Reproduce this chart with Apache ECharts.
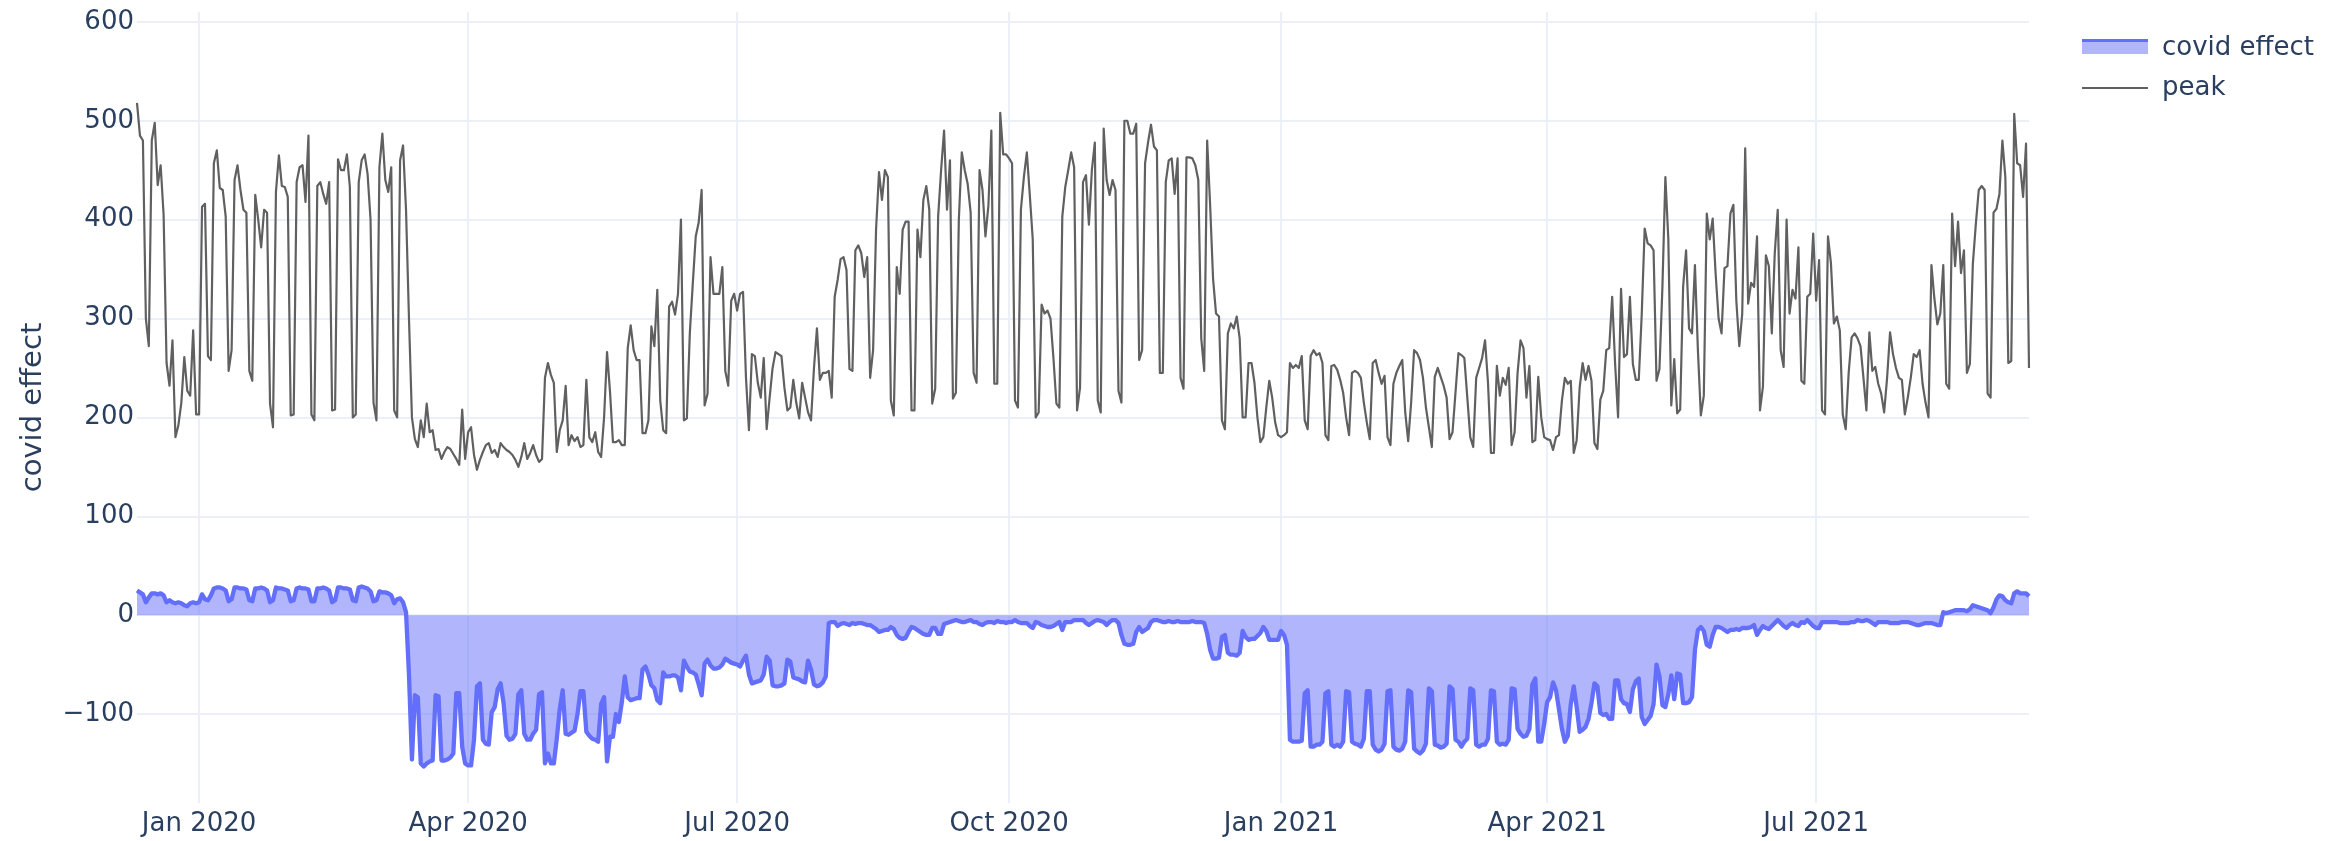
<!DOCTYPE html>
<html>
<head>
<meta charset="utf-8">
<title>covid effect</title>
<script src="https://cdn.jsdelivr.net/npm/echarts@6/dist/echarts.min.js"></script>
<style>
  html, body { margin: 0; padding: 0; background: #ffffff; }
  #chart { width: 2340px; height: 841px; }
</style>
</head>
<body>
<div id="chart"></div>
<script>
// Daily series, one line per week (Mon..Sun); first line starts Wed 2019-12-11.
const firstDay = '2019-12-11';

const peak = [
  518, 485, 480, 300, 272,
  480, 498, 435, 455, 405, 255, 232,
  278, 180, 192, 215, 261, 227, 222,
  288, 203, 203, 413, 416, 262, 258,
  457, 470, 432, 430, 403, 247, 268,
  440, 455, 430, 410, 407, 247, 237,
  425, 400, 372, 410, 407, 214, 190,
  428, 465, 434, 433, 423, 202, 203,
  438, 453, 455, 418, 485, 203, 197,
  434, 438, 426, 416, 438, 207, 208,
  461, 450, 450, 466, 433, 200, 203,
  438, 460, 466, 446, 400, 215, 197,
  453, 487, 440, 428, 453, 207, 200,
  460, 475, 410, 300, 200, 178, 170,
  197, 180, 214, 185, 187, 167, 168,
  158, 165, 170, 168, 163, 158, 152,
  208, 158, 185, 190, 162, 147, 157,
  165, 172, 174, 164, 167, 160, 174,
  170, 167, 165, 162, 157, 150, 160,
  174, 158, 164, 172, 162, 155, 158,
  240, 255, 243, 235, 165, 187, 197,
  232, 172, 182, 176, 180, 170, 172,
  238, 180, 175, 185, 165, 160, 200,
  266, 226, 175, 175, 177, 172, 172,
  270, 293, 268, 258, 258, 184, 184,
  197, 292, 272, 329, 217, 187, 184,
  312, 317, 304, 325, 400, 197, 199,
  285, 335, 383, 397, 430, 212, 224,
  362, 325, 325, 325, 352, 247, 232,
  318, 325, 308, 325, 327, 240, 187,
  264, 262, 235, 220, 260, 188, 220,
  250, 266, 264, 262, 230, 207, 210,
  238, 215, 199, 235, 220, 205, 197,
  250, 290, 238, 245, 245, 247, 220,
  322, 339, 360, 362, 349, 249, 247,
  369, 374, 366, 342, 362, 240, 268,
  390, 448, 420, 450, 443, 217, 202,
  352, 325, 390, 398, 398, 207, 207,
  390, 362, 420, 434, 410, 214, 229,
  403, 450, 490, 410, 460, 219, 225,
  400, 468, 450, 436, 407, 245, 235,
  450, 430, 383, 414, 490, 234, 234,
  508, 466, 466, 462, 457, 217, 210,
  410, 443, 468, 425, 380, 200, 205,
  314, 305, 308, 300, 260, 214, 210,
  403, 433, 450, 468, 453, 207, 230,
  438, 445, 395, 450, 478, 217, 205,
  492, 440, 425, 440, 430, 227, 215,
  500, 500, 487, 487, 497, 258, 268,
  457, 478, 496, 474, 470, 245, 245,
  438, 460, 462, 426, 462, 240, 229,
  463, 463, 462, 455, 440, 280, 247,
  480, 415, 340, 305, 302, 197, 188,
  285, 295, 290, 302, 280, 200, 200,
  255, 255, 235, 200, 175, 180, 210,
  237, 220, 195, 182, 180, 182, 185,
  255, 250, 253, 250, 262, 197, 188,
  262, 268, 263, 265, 255, 182, 177,
  252, 253, 248, 238, 225, 200, 182,
  245, 247, 245, 240, 215, 195, 178,
  255, 258, 245, 234, 242, 180, 172,
  234, 245, 252, 258, 205, 176, 215,
  268, 265, 258, 240, 210, 190, 170,
  241, 250, 241, 232, 220, 178, 185,
  225, 265, 263, 260, 220, 180, 170,
  240, 250, 260, 278, 235, 164, 164,
  252, 222, 240, 233, 250, 172, 185,
  245, 278, 270, 220, 252, 175, 177,
  241, 200, 180, 178, 177, 167, 180,
  182, 217, 240, 234, 237, 164, 177,
  230, 255, 238, 252, 237, 174, 168,
  218, 227, 268, 270, 322, 254, 200,
  330, 261, 264, 322, 254, 238, 238,
  304, 391, 376, 374, 369, 237, 249,
  332, 443, 380, 212, 259, 204, 208,
  332, 369, 290, 285, 354, 268, 202,
  222, 406, 380, 401, 345, 300, 285,
  351, 353, 406, 415, 318, 272, 305,
  472, 315, 336, 332, 383, 207, 231,
  364, 353, 285, 366, 410, 268, 251,
  400, 305, 329, 320, 372, 237, 234,
  322, 325, 386, 318, 359, 207, 203,
  383, 356, 295, 302, 288, 203, 188,
  245, 281, 285, 280, 272, 240, 207,
  286, 247, 251, 234, 224, 205, 240,
  286, 264, 250, 240, 238, 203, 220,
  240, 264, 261, 268, 234, 215, 200,
  354, 320, 294, 305, 354, 234, 229,
  406, 353, 398, 346, 369, 245, 254,
  355, 395, 430, 434, 430, 224, 220,
  407, 411, 426, 480, 443, 255, 257,
  507, 457, 455, 423, 477, 250
];

const covidEffect = [
  25, 23, 21, 13, 18,
  22, 22, 21, 22, 20, 13, 15,
  13, 12, 13, 12, 10, 9, 12,
  13, 12, 13, 21, 16, 15, 20,
  27, 28, 28, 27, 25, 14, 16,
  28, 28, 27, 27, 26, 15, 14,
  27, 27, 28, 27, 25, 13, 15,
  28, 27, 27, 26, 25, 14, 15,
  27, 28, 27, 27, 26, 14, 14,
  27, 27, 28, 27, 25, 13, 15,
  28, 28, 27, 27, 26, 15, 14,
  28, 29, 28, 27, 24, 14, 15,
  24, 23, 23, 22, 20, 12, 16,
  17, 13, 3, -60, -146, -81, -83,
  -150, -153, -150, -148, -147, -81, -82,
  -147, -147, -146, -144, -140, -79, -79,
  -133, -150, -152, -152, -126, -72, -69,
  -126, -130, -131, -98, -93, -75, -69,
  -89, -122, -126, -125, -120, -80, -76,
  -120, -126, -126, -120, -116, -80, -78,
  -150, -140, -150, -150, -125, -95, -76,
  -120, -121, -119, -117, -100, -77, -77,
  -118, -122, -125, -126, -128, -90, -83,
  -148, -123, -123, -100, -108, -88, -62,
  -83, -86, -85, -84, -84, -55, -52,
  -60, -71, -74, -86, -89, -58, -62,
  -62, -61, -61, -63, -76, -46, -52,
  -57, -58, -60, -70, -81, -49, -45,
  -51, -54, -54, -53, -50, -44, -46,
  -48, -49, -50, -52, -46, -41, -60,
  -69, -68, -67, -66, -60, -42, -46,
  -71, -72, -72, -71, -69, -45, -47,
  -63, -64, -65, -67, -68, -46, -55,
  -70, -72, -71, -68, -62, -8, -7,
  -7, -11, -9, -8, -9, -10, -8,
  -9, -8, -8, -9, -10, -10, -12,
  -14, -17, -16, -15, -15, -12, -14,
  -20, -23, -24, -23, -17, -12, -13,
  -15, -17, -19, -20, -20, -13, -13,
  -19, -19, -9, -8, -7, -6, -5,
  -6, -7, -7, -6, -5, -7, -7,
  -9, -10, -8, -7, -7, -8, -6,
  -7, -7, -8, -7, -7, -5, -7,
  -8, -8, -8, -11, -13, -7, -8,
  -10, -11, -12, -12, -11, -9, -7,
  -15, -7, -7, -7, -5, -5, -5,
  -5, -8, -10, -8, -6, -5, -6,
  -7, -10, -7, -5, -5, -8, -20,
  -29, -30, -30, -29, -17, -12, -17,
  -15, -13, -7, -5, -5, -6, -7,
  -7, -6, -7, -7, -6, -7, -7,
  -7, -7, -6, -7, -7, -7, -8,
  -19, -35, -44, -44, -43, -22, -20,
  -38, -40, -40, -41, -38, -16, -22,
  -25, -24, -24, -21, -18, -12, -16,
  -25, -25, -25, -25, -16, -20, -30,
  -126, -128, -128, -128, -127, -79, -76,
  -133, -133, -131, -131, -128, -79, -77,
  -131, -133, -131, -133, -128, -77, -78,
  -128, -130, -131, -133, -125, -77, -77,
  -131, -136, -138, -136, -130, -77, -76,
  -133, -136, -137, -135, -128, -76, -78,
  -135, -138, -140, -137, -130, -74, -77,
  -131, -132, -134, -133, -130, -72, -75,
  -126, -128, -133, -128, -125, -74, -76,
  -131, -133, -131, -131, -125, -76, -77,
  -128, -131, -130, -131, -126, -74, -75,
  -115, -120, -123, -122, -115, -70, -64,
  -128, -128, -110, -88, -83, -68, -76,
  -95, -115, -128, -122, -90, -72, -93,
  -118, -116, -113, -105, -89, -69, -72,
  -99, -101, -100, -105, -105, -66, -66,
  -85, -89, -90, -98, -75, -67, -64,
  -103, -110, -106, -102, -90, -50, -62,
  -91, -93, -80, -61, -85, -59, -60,
  -89, -89, -88, -83, -35, -15, -12,
  -16, -30, -32, -20, -12, -12, -13,
  -15, -17, -15, -15, -14, -15, -13,
  -13, -13, -12, -10, -20, -15, -11,
  -13, -14, -11, -8, -5, -8, -11,
  -13, -10, -8, -10, -11, -7, -8,
  -5, -8, -11, -13, -13, -7, -7,
  -7, -7, -7, -7, -8, -8, -8,
  -8, -7, -7, -5, -6, -6, -5,
  -6, -8, -10, -7, -7, -7, -7,
  -8, -8, -8, -8, -7, -7, -7,
  -8, -9, -10, -10, -9, -8, -8,
  -8, -9, -10, -10, 3, 2, 3,
  4, 5, 5, 5, 5, 4, 6,
  10, 9, 8, 7, 6, 5, 2,
  8, 16, 20, 19, 15, 13, 12,
  22, 24, 22, 22, 22, 19
];

const tickDates = ['2020-01-01', '2020-04-01', '2020-07-01', '2020-10-01',
                   '2021-01-01', '2021-04-01', '2021-07-01'];
const tickLabels = ['Jan 2020', 'Apr 2020', 'Jul 2020', 'Oct 2020',
                    'Jan 2021', 'Apr 2021', 'Jul 2021'];
const yTicks = [-100, 0, 100, 200, 300, 400, 500, 600];

const DAY = 86400000;
const start = Date.parse(firstDay);
const days = peak.map((_, i) => start + i * DAY);
const tickTimes = tickDates.map(d => Date.parse(d));

const font = 'DejaVu Sans, Verdana, sans-serif';
const textColor = '#2a3f5f';
const gridColor = '#ebf0f8';
const effectColor = '#636efa';
const peakColor = '#606060';

const chart = echarts.init(document.getElementById('chart'), null, { renderer: 'canvas' });

chart.setOption({
  animation: false,
  backgroundColor: '#ffffff',
  grid: { left: 137, right: 311, top: 12, bottom: 38 },
  legend: {
    orient: 'vertical',
    left: 2077,
    top: 28,
    itemWidth: 66,
    itemHeight: 12,
    itemGap: 10,
    textStyle: {
      fontFamily: font, fontSize: 26, color: textColor, lineHeight: 30,
      padding: [0, 0, 0, 9]
    },
    data: [
      {
        // filled swatch with a darker edge along its top
        name: 'covid effect', icon: 'rect',
        itemStyle: {
          color: '#b1b6fc', borderWidth: 0,
          shadowColor: effectColor, shadowBlur: 0, shadowOffsetX: 0, shadowOffsetY: -3
        }
      },
      {
        name: 'peak', icon: 'path://M0,0H66V2.2H0Z',
        itemStyle: { color: peakColor, borderWidth: 0 }
      }
    ]
  },
  xAxis: {
    // date axis drawn on millisecond timestamps
    type: 'value',
    min: days[0],
    max: days[days.length - 1],
    axisLine: { show: false },
    axisTick: { show: false, customValues: tickTimes },
    splitLine: { show: true, lineStyle: { color: gridColor, width: 2 } },
    axisLabel: {
      customValues: tickTimes,
      fontFamily: font,
      fontSize: 26,
      color: textColor,
      margin: 21,
      verticalAlign: 'middle',
      formatter: (v) => tickLabels[tickTimes.indexOf(v)] || ''
    }
  },
  yAxis: {
    type: 'value',
    min: -190,
    max: 610,
    splitNumber: 8,
    name: 'covid effect',
    nameLocation: 'middle',
    nameGap: 104,
    nameTextStyle: { fontFamily: font, fontSize: 29, color: textColor, verticalAlign: 'middle' },
    axisLine: { show: false },
    axisTick: { show: false, customValues: yTicks },
    splitLine: { show: true, lineStyle: { color: gridColor, width: 2 } },
    axisLabel: {
      customValues: yTicks,
      fontFamily: font,
      fontSize: 26,
      color: textColor,
      margin: 3,
      formatter: (v) => (v < 0 ? '\u2212' + Math.abs(v) : String(v))
    }
  },
  series: [
    {
      name: 'covid effect',
      type: 'line',
      data: days.map((t, i) => [t, covidEffect[i]]),
      symbol: 'none',
      color: effectColor,
      lineStyle: { color: effectColor, width: 4.3, join: 'round' },
      areaStyle: { color: 'rgba(99,110,250,0.5)', opacity: 1, origin: 0 },
      z: 2
    },
    {
      name: 'peak',
      type: 'line',
      data: days.map((t, i) => [t, peak[i]]),
      symbol: 'none',
      color: peakColor,
      lineStyle: { color: peakColor, width: 2.2, join: 'round' },
      z: 3
    }
  ]
});
</script>
</body>
</html>
